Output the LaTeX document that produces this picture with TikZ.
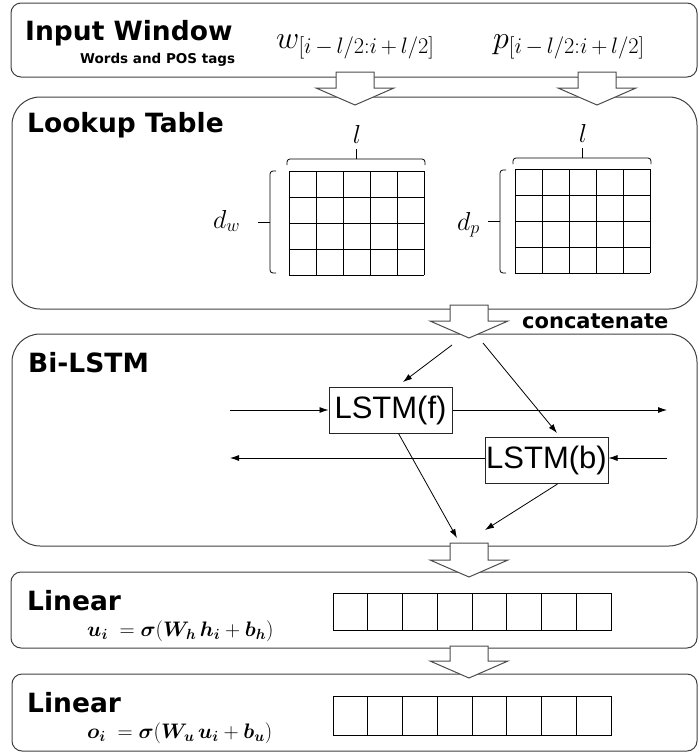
\RequirePackage{fix-cm}
\documentclass[tikz,border=0pt]{standalone}
\usepackage{amsmath}
\usepackage{bm}
\usepackage{fontspec}
\newfontfamily\headfont{DejaVu Sans}
\newfontfamily\boxfont{Liberation Sans}
\usetikzlibrary{arrows.meta,positioning}

\tikzset{
  panel/.style={draw=black!75,line width=1pt,rounded corners=#1},
  heading/.style={anchor=base west,inner sep=0pt,font=\headfont\bfseries\fontsize{26.5}{30}\selectfont},
  lstm/.style={draw=black!85,line width=1pt,inner sep=0pt,minimum width=123pt,minimum height=46pt,font=\boxfont\fontsize{31}{36}\selectfont},
  link/.style={-{Latex[length=9pt,width=6pt]},line width=0.8pt},
  hollow/.style={draw=black!70,fill=white,line width=1pt},
  gridline/.style={line width=1pt},
  braceline/.style={line width=0.8pt,rounded corners=3pt},
  mathlbl/.style={anchor=base,inner sep=0pt,font=\fontsize{26}{30}\selectfont},
  winlbl/.style={anchor=base west,inner sep=0pt,font=\fontsize{32}{36}\selectfont},
  formula/.style={anchor=base west,inner sep=0pt,font=\fontsize{21}{25}\selectfont},
}

% hollow block arrow: centre x, top y, tip y
\newcommand\hollowarrow[3]{%
  \filldraw[hollow] (#1-19,#2) -- (#1+19,#2) -- (#1+19,#3-17) -- (#1+39,#3-17)
    -- (#1,#3) -- (#1-39,#3-17) -- (#1-19,#3-17) -- cycle;}

\begin{document}
\begin{tikzpicture}[x=1pt,y=-1pt]
	\useasboundingbox (0,0) rectangle (699,753);
	% panels
	\draw[panel=10] (11,3) rectangle (697,77);
	\draw[panel=28] (12,97) rectangle (697,309);
	\draw[panel=28] (12,334) rectangle (697,546);
	\draw[panel=10] (11,572) rectangle (697,648);
	\draw[panel=10] (12,674) rectangle (697,751);
	% input window
	\node[heading] (inwin) at (25,40) {Input Window};
	\node[anchor=base west,inner sep=0pt,font=\headfont\bfseries\fontsize{13.5}{16}\selectfont] (tags) at (80,63) {Words and POS tags};
	\node[winlbl] (wwin) at (276,48) {$w_{[i\,-\,l/2:i\,+\,l/2]}$};
	\node[winlbl] (pwin) at (493,48) {$p_{[i\,-\,l/2:i\,+\,l/2]}$};
	\hollowarrow{355}{72}{105}
	\hollowarrow{597}{72}{105}
	% lookup table
	\node[heading] (lookup) at (27,132) {Lookup Table};
	\foreach \i in {0,...,5} \draw[gridline] (289+\i*27,171) -- (289+\i*27,275);
	\foreach \j in {0,...,4} \draw[gridline] (289,171+\j*26) -- (424,171+\j*26);
	\foreach \i in {0,...,5} \draw[gridline] (515+\i*27,169) -- (515+\i*27,273);
	\foreach \j in {0,...,4} \draw[gridline] (515,169+\j*26) -- (650,169+\j*26);
	\draw[braceline] (287,165) -- (287,159) -- (425,159) -- (425,165);
	\draw[line width=0.8pt] (356,159) -- (356,149);
	\draw[braceline] (513,164) -- (513,158) -- (651,158) -- (651,164);
	\draw[line width=0.8pt] (582,158) -- (582,148);
	\draw[braceline] (276,171) -- (270,171) -- (270,273) -- (276,273);
	\draw[line width=0.8pt] (270,222) -- (258,222);
	\draw[braceline] (506,170) -- (500,170) -- (500,273) -- (506,273);
	\draw[line width=0.8pt] (500,221) -- (488,221);
	\node[mathlbl] (lw) at (357,143) {$l$};
	\node[mathlbl] (lp) at (583,142) {$l$};
	\node[mathlbl,anchor=base west] (dw) at (213,228) {$d_w$};
	\node[mathlbl,anchor=base west] (dp) at (457,230) {$d_p$};
	% concatenate
	\hollowarrow{469}{305}{338}
	\node[anchor=base west,inner sep=0pt,font=\headfont\bfseries\fontsize{21}{25}\selectfont] (concat) at (522,328) {concatenate};
	% bi-lstm
	\node[heading] (bilstm) at (28,372) {Bi-LSTM};
	\node[lstm] (f) at (390.5,410) {LSTM(f)};
	\node[lstm] (b) at (546.5,460.5) {LSTM(b)};
	\coordinate (c1) at (452,345);
	\coordinate (c2) at (483,343);
	\coordinate (ftop) at (403,382);
	\coordinate (btop) at (557,433);
	\coordinate (in1) at (230,410);
	\coordinate (out1) at (667,410);
	\coordinate (in2) at (667,458);
	\coordinate (out2) at (230,458);
	\coordinate (m1) at (457,538);
	\coordinate (m2) at (485,530);
	\draw[link] (c1) -- (ftop);
	\draw[link] (c2) -- (btop);
	\draw[link] (in1) -- (f.west);
	\draw[link] (f.east) -- (out1);
	\draw[link] (in2) -- (b.east |- in2);
	\draw[link] (b.west |- in2) -- (out2);
	\draw[link] ([xshift=8pt]f.south) -- (m1);
	\draw[link] ([xshift=11pt]b.south) -- (m2);
	% linear layers
	\hollowarrow{469}{543}{577}
	\node[heading] (lin1) at (27,610) {Linear};
	\node[formula] (eq1) at (87,636) {$\bm{u_i}\;=\bm{\sigma}(\bm{W_h}\,\bm{h_i}+\bm{b_h})$};
	\draw[gridline] (333,593) rectangle (611,630);
	\foreach \i in {1,...,7} \draw[gridline] (333+\i*34.75,593) -- (333+\i*34.75,630);
	\hollowarrow{469}{646}{678}
	\node[heading] (lin2) at (27,712) {Linear};
	\node[formula] (eq2) at (87,738) {$\bm{o_i}\;=\bm{\sigma}(\bm{W_u}\,\bm{u_i}+\bm{b_u})$};
	\draw[gridline] (333,696) rectangle (611,735);
	\foreach \i in {1,...,7} \draw[gridline] (333+\i*34.75,696) -- (333+\i*34.75,735);
\end{tikzpicture}
\end{document}
